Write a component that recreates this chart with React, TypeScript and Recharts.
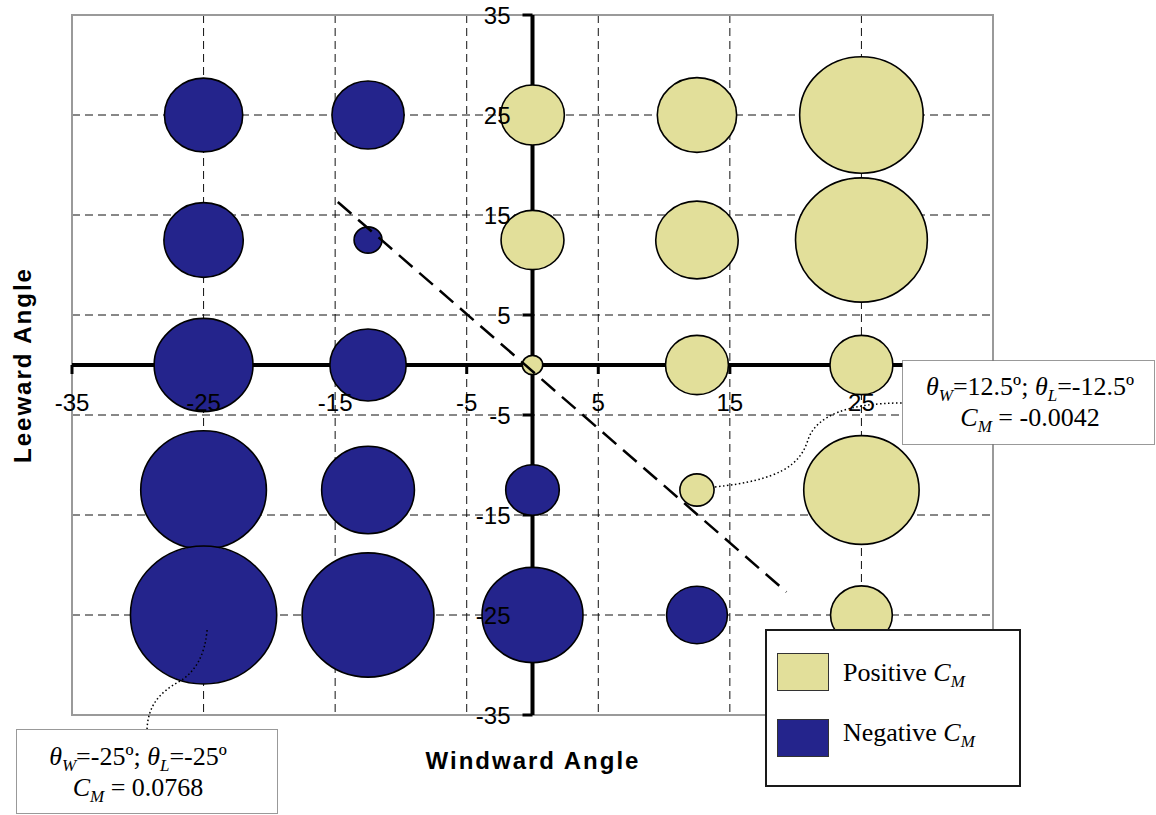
import React from 'react';
import {
  ScatterChart,
  Scatter,
  XAxis,
  YAxis,
  ZAxis,
  CartesianGrid,
  ReferenceLine,
  ReferenceArea,
  ReferenceDot,
  Legend,
} from 'recharts';

// bubble grid: windward angle (columns) x leeward angle (rows)
const windwardAngles = [-25, -12.5, 0, 12.5, 25];
const leewardAngles = [25, 12.5, 0, -12.5, -25];

// C_M, one row per leeward angle (top to bottom)
const cmRows = [
  [-0.022, -0.0187, 0.0146, 0.0226, 0.0548],
  [-0.0226, -0.0028, 0.0142, 0.0244, 0.0624],
  [-0.0351, -0.0209, 0.0015, 0.0142, 0.0142],
  [-0.0567, -0.0309, -0.0103, 0.0042, 0.0478],
  [-0.0768, -0.0624, -0.0366, -0.0133, 0.0137],
];

const axisTicks = [-35, -25, -15, -5, 5, 15, 25, 35];
const xTickLabels = [-35, -25, -15, -5, 5, 15, 25]; // 35 sits under the note box
const gridValues = [-25, -15, -5, 5, 15, 25];
const trendLine = [
  { x: -14.8, y: 16.3 },
  { x: 19.3, y: -22.7 },
];
const legendOrder = ['Positive', 'Negative'];
const CM_MAX = 0.0768;
const MAX_RADIUS = 71;

const cells = leewardAngles.flatMap((y, i) =>
  windwardAngles.map((x, j) => ({ x, y, cm: cmRows[i][j], z: Math.abs(cmRows[i][j]) }))
);
const positive = cells.filter((c) => c.cm > 0);
const negative = cells.filter((c) => c.cm < 0);

const SANS = '"Liberation Sans", Arial, sans-serif';
const SERIF = '"Liberation Serif", "Times New Roman", serif';
const YELLOW = '#E2DF9A';
const NAVY = '#24248C';

const bubble = (fill: string) => (p: any) => {
  const r = p.width ? p.width / 2 : Math.sqrt((p.size || 0) / Math.PI);
  return (
    <ellipse cx={p.cx} cy={p.cy} rx={r * 1.03} ry={r / 1.03} fill={fill} stroke="#000" strokeWidth={1.6} />
  );
};

const xMark = (p: any) => <line x1={p.cx} y1={p.cy} x2={p.cx} y2={p.cy + 9} stroke="#000" strokeWidth={3} />;
const yMark = (p: any) => <line x1={p.cx - 10} y1={p.cy} x2={p.cx} y2={p.cy} stroke="#000" strokeWidth={3} />;

const xLabel = (value: number) => (p: any) => (
  <text x={p.cx} y={p.cy + 46} textAnchor="middle" fontFamily={SANS} fontSize={24} fill="#000">
    {value}
  </text>
);

const yLabel = (value: number) => (p: any) => (
  <text x={p.cx - 22} y={p.cy + 9} textAnchor="end" fontFamily={SANS} fontSize={24} fill="#000">
    {value}
  </text>
);

// dotted leader lines from a bubble to its note box
const leader = (d: string) => (p: any) => (
  <path
    d={d.replace(/(-?\d+(\.\d+)?),(-?\d+(\.\d+)?)/g, (_m, a, _b, c) => `${p.cx + +a},${p.cy + +c}`)}
    fill="none"
    stroke="#000"
    strokeWidth={1.5}
    strokeDasharray="1.5 2.5"
  />
);

const LegendBox = (props: any) => {
  const items = [...(props.payload || [])].sort(
    (a: any, b: any) => legendOrder.indexOf(a.value) - legendOrder.indexOf(b.value)
  );
  return (
    <div
      style={{
        position: 'relative',
        width: 256,
        height: 158,
        boxSizing: 'border-box',
        border: '2px solid #1a1a1a',
        background: '#fff',
        fontFamily: SERIF,
        fontSize: 26,
        color: '#000',
      }}
    >
      {items.map((it: any, i: number) => (
        <React.Fragment key={it.value}>
          <div
            style={{
              position: 'absolute',
              left: 10,
              top: 22 + i * 66,
              width: 52,
              height: 38,
              boxSizing: 'border-box',
              background: it.color,
              border: '1px solid #333',
            }}
          />
          <div style={{ position: 'absolute', left: 76, top: 27 + i * 60, lineHeight: '30px', whiteSpace: 'nowrap' }}>
            {it.value} <i>C</i>
            <i style={{ fontSize: 17, position: 'relative', top: 6 }}>M</i>
          </div>
        </React.Fragment>
      ))}
    </div>
  );
};

const Note = ({ cx, y, line1, line2 }: any) => (
  <>
    <text x={cx} y={y} textAnchor="middle" fontFamily={SERIF} fontSize={26} fill="#000">
      <tspan fontStyle="italic">θ</tspan>
      <tspan fontStyle="italic" fontSize={17} dy={6}>W</tspan>
      <tspan dy={-6}>{line1[0]}</tspan>
      <tspan fontStyle="italic">θ</tspan>
      <tspan fontStyle="italic" fontSize={17} dy={6}>L</tspan>
      <tspan dy={-6}>{line1[1]}</tspan>
    </text>
    <text x={cx} y={y + 31} textAnchor="middle" fontFamily={SERIF} fontSize={26} fill="#000">
      <tspan fontStyle="italic">C</tspan>
      <tspan fontStyle="italic" fontSize={17} dy={6}>M</tspan>
      <tspan dy={-6}>{line2}</tspan>
    </text>
  </>
);

export default function App() {
  return (
    <div style={{ position: 'absolute', left: 0, top: 0, width: 1156, height: 815, background: '#fff' }}>
      <ScatterChart width={1156} height={815} margin={{ top: 15, right: 163, bottom: 100, left: 72 }}>
        <XAxis type="number" dataKey="x" domain={[-35, 35]} ticks={gridValues} hide />
        <YAxis type="number" dataKey="y" domain={[-35, 35]} ticks={gridValues} hide />
        <ZAxis type="number" dataKey="z" domain={[0, CM_MAX]} range={[0, Math.PI * MAX_RADIUS * MAX_RADIUS]} />
        <CartesianGrid
          stroke="#111"
          strokeWidth={1}
          strokeDasharray="8 5"
          horizontalValues={gridValues}
          verticalValues={gridValues}
        />
        <ReferenceArea x1={-35} x2={35} y1={-35} y2={35} fill="none" stroke="#9a9a9a" strokeWidth={2} zIndex={50} />
        <ReferenceLine y={0} stroke="#000" strokeWidth={4} zIndex={100} />
        <ReferenceLine x={0} stroke="#000" strokeWidth={4} zIndex={100} />
        {axisTicks.map((t) => (
          <ReferenceDot key={`xm${t}`} x={t} y={0} r={0} ifOverflow="visible" shape={xMark} zIndex={110} />
        ))}
        {axisTicks.map((t) => (
          <ReferenceDot key={`ym${t}`} x={0} y={t} r={0} ifOverflow="visible" shape={yMark} zIndex={110} />
        ))}
        <Scatter name="Positive" data={positive} fill={YELLOW} legendType="square" shape={bubble(YELLOW)} isAnimationActive={false} />
        <Scatter name="Negative" data={negative} fill={NAVY} legendType="square" shape={bubble(NAVY)} isAnimationActive={false} />
        {xTickLabels.map((t) => (
          <ReferenceDot key={`xl${t}`} x={t} y={0} r={0} ifOverflow="visible" shape={xLabel(t)} zIndex={700} />
        ))}
        {axisTicks.map((t) => (
          <ReferenceDot key={`yl${t}`} x={0} y={t} r={0} ifOverflow="visible" shape={yLabel(t)} zIndex={700} />
        ))}
        <ReferenceLine segment={trendLine} stroke="#000" strokeWidth={2.5} strokeDasharray="18 9" zIndex={800} />
        <ReferenceDot
          x={12.5}
          y={-12.5}
          r={0}
          ifOverflow="visible"
          zIndex={900}
          shape={leader('M18,-3 C83,-10 103,-25 111,-50 C119,-75 153,-87 205,-87')}
        />
        <ReferenceDot
          x={-25}
          y={-25}
          r={0}
          ifOverflow="visible"
          zIndex={900}
          shape={leader('M3.5,15 C1.5,40 -8.5,57 -23.5,66 C-43.5,77 -55.5,90 -56.5,114')}
        />
        <Legend
          layout="vertical"
          align="center"
          verticalAlign="middle"
          content={LegendBox}
          wrapperStyle={{ left: 765, top: 629, width: 256, height: 158 }}
        />
      </ScatterChart>
      <svg width={1156} height={815} style={{ position: 'absolute', left: 0, top: 0, pointerEvents: 'none' }}>
        <text x={533} y={769} textAnchor="middle" fontFamily={SANS} fontWeight="bold" fontSize={24} letterSpacing={2}>
          Windward Angle
        </text>
        <text
          transform="translate(31,365) rotate(-90)"
          textAnchor="middle"
          fontFamily={SANS}
          fontWeight="bold"
          fontSize={24}
          letterSpacing={2}
        >
          Leeward Angle
        </text>
        <rect x={902.5} y={360.5} width={252} height={84} fill="#fff" stroke="#333" strokeDasharray="1 1" />
        <Note cx={1030} y={395} line1={['=12.5º; ', '=-12.5º']} line2=" = -0.0042" />
        <rect x={16.5} y={729.5} width={261} height={84} fill="#fff" stroke="#333" strokeDasharray="1 1" />
        <Note cx={138} y={765} line1={['=-25º; ', '=-25º']} line2=" = 0.0768" />
      </svg>
    </div>
  );
}
